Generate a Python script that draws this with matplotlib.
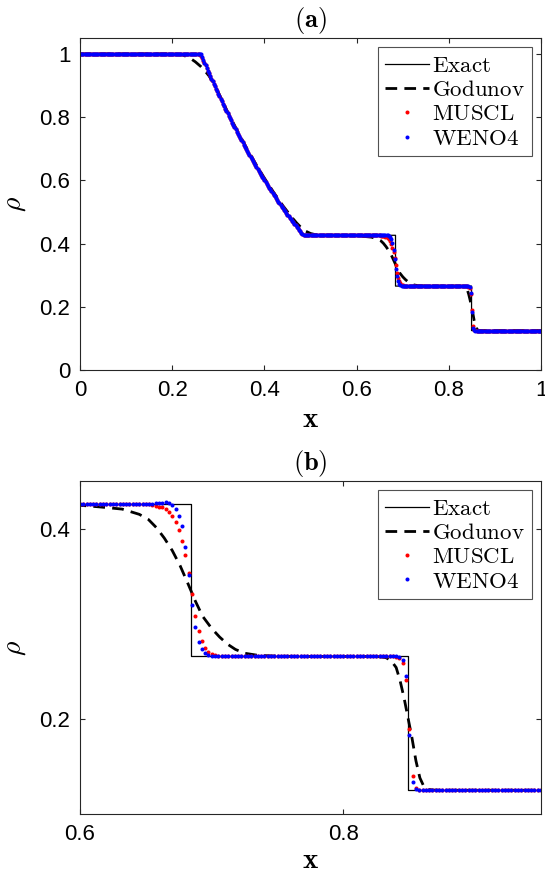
import numpy as np
import matplotlib
matplotlib.use('Agg')
import matplotlib.pyplot as plt

plt.rcParams['font.family'] = ['Liberation Sans', 'DejaVu Sans']
plt.rcParams['mathtext.fontset'] = 'cm'

# Sod shock tube, density at t = 0.2
# exact solution (piecewise: left state, fan, star states, right state)
exact_x = [0.0, 0.2634, 0.27, 0.28, 0.29, 0.30, 0.31, 0.32, 0.33, 0.34, 0.35,
           0.36, 0.37, 0.38, 0.39, 0.40, 0.41, 0.42, 0.43, 0.44, 0.45, 0.46,
           0.47, 0.48, 0.486, 0.6843, 0.6843, 0.8492, 0.8492, 1.0]
exact_rho = [1.0, 1.0, 0.9768, 0.9428, 0.9096, 0.8775, 0.8462, 0.8158, 0.7863,
             0.7577, 0.7299, 0.7030, 0.6768, 0.6514, 0.6268, 0.6029, 0.5798,
             0.5574, 0.5357, 0.5146, 0.4943, 0.4746, 0.4555, 0.4370, 0.4263,
             0.4263, 0.2656, 0.2656, 0.125, 0.125]

# first order Godunov
god_x = [0.0, 0.20, 0.22, 0.232, 0.242, 0.25, 0.262, 0.27, 0.28, 0.29, 0.30,
         0.32, 0.34, 0.36, 0.38, 0.40, 0.42, 0.44, 0.46, 0.47, 0.48, 0.49,
         0.50, 0.51, 0.525, 0.55, 0.58, 0.60, 0.615, 0.632, 0.645, 0.652,
         0.658, 0.664, 0.670, 0.676, 0.682, 0.6875, 0.693, 0.700, 0.706,
         0.712, 0.718, 0.725, 0.735, 0.75, 0.77, 0.825, 0.832, 0.836, 0.840,
         0.843, 0.846, 0.849, 0.852, 0.855, 0.858, 0.861, 0.864, 0.868,
         0.875, 1.0]
god_rho = [1.0, 1.0, 0.998, 0.991, 0.983, 0.975, 0.960, 0.948, 0.930, 0.906,
           0.878, 0.817, 0.760, 0.706, 0.655, 0.607, 0.562, 0.520, 0.482,
           0.465, 0.450, 0.439, 0.432, 0.4285, 0.4268, 0.4263, 0.4258, 0.4245,
           0.4228, 0.4205, 0.4150, 0.4095, 0.4010, 0.3900, 0.3770, 0.3610,
           0.3420, 0.3240, 0.3080, 0.2950, 0.2860, 0.2785, 0.2730, 0.2690,
           0.2668, 0.2659, 0.2656, 0.2656, 0.2645, 0.2615, 0.2540, 0.2400,
           0.2220, 0.2010, 0.1800, 0.1560, 0.1380, 0.1290, 0.1260, 0.1252,
           0.1250, 0.125]

# nodal values of the high order schemes, 400 cells
x_nodes = np.linspace(0.0, 1.0, 401)

rho_left, rho_star_l, rho_star_r, rho_right = 1.0, 0.4263, 0.2656, 0.125

# rarefaction fan, nodes 105..194
fan_rho = [0.9988, 0.9900, 0.9813,
           0.9726, 0.9641, 0.9555, 0.9470, 0.9386, 0.9303, 0.9221, 0.9138,
           0.9056, 0.8976, 0.8895, 0.8815, 0.8735, 0.8657, 0.8579, 0.8501,
           0.8424, 0.8348, 0.8272, 0.8196, 0.8121, 0.8048, 0.7974, 0.7900,
           0.7828, 0.7756, 0.7685, 0.7613, 0.7542, 0.7473, 0.7404, 0.7334,
           0.7266, 0.7198, 0.7131, 0.7063, 0.6997, 0.6931, 0.6866, 0.6801,
           0.6736, 0.6673, 0.6609, 0.6546, 0.6483, 0.6422, 0.6360, 0.6299,
           0.6238, 0.6179, 0.6119, 0.6059, 0.6000, 0.5943, 0.5885, 0.5827,
           0.5770, 0.5714, 0.5658, 0.5602, 0.5547, 0.5493, 0.5438, 0.5384,
           0.5331, 0.5278, 0.5225, 0.5173, 0.5121, 0.5070, 0.5019, 0.4968,
           0.4918, 0.4869, 0.4820, 0.4770, 0.4722, 0.4674, 0.4626, 0.4579,
           0.4532, 0.4485, 0.4439, 0.4393, 0.4348, 0.4303, 0.4263]

# MUSCL
muscl_head = [0.9998, 0.9990, 0.9970, 0.9930, 0.9860, 0.9790]          # nodes 102..107
muscl_contact = [0.4261, 0.4258, 0.4254, 0.4248, 0.4241, 0.4232, 0.4222,
                 0.4208, 0.4176, 0.4137, 0.4067, 0.3989, 0.3874, 0.3726,
                 0.3533, 0.3312, 0.3077, 0.2919, 0.2814, 0.2744, 0.2702,
                 0.2684, 0.2672, 0.2665, 0.2661, 0.2658, 0.2657]       # nodes 259..285
muscl_shock = [0.2655, 0.2642, 0.2586, 0.2411, 0.1895, 0.1400, 0.1274,
               0.1255, 0.1251]                                          # nodes 336..344

# WENO4
weno4_contact = [0.4267, 0.4271, 0.4274, 0.4275, 0.4271, 0.4250, 0.4207,
                 0.4137, 0.4024, 0.3807, 0.3516, 0.3200, 0.2965, 0.2811,
                 0.2737, 0.2692, 0.2670, 0.2661, 0.2658]               # nodes 263..281
weno4_shock = [0.2652, 0.2614, 0.2453, 0.1832, 0.1340, 0.1260, 0.1252]  # nodes 337..343

muscl_rho = np.array([rho_left] * 102 + muscl_head + fan_rho[3:]
                     + [rho_star_l] * 64 + muscl_contact
                     + [rho_star_r] * 50 + muscl_shock + [rho_right] * 56)
weno4_rho = np.array([rho_left] * 105 + fan_rho
                     + [rho_star_l] * 68 + weno4_contact
                     + [rho_star_r] * 55 + weno4_shock + [rho_right] * 57)

axis_col = '#262626'


def draw(ax, title, xpad):
    ax.plot(exact_x, exact_rho, '-', color='k', lw=0.9, label=r'$\mathrm{Exact}$')
    ax.plot(god_x, god_rho, '--', color='k', lw=2.0, dashes=(4.2, 2.6),
            label=r'$\mathrm{Godunov}$')
    ax.plot(x_nodes, muscl_rho, 'o', color='red', ms=2.9, mew=0,
            label=r'$\mathrm{MUSCL}$')
    ax.plot(x_nodes, weno4_rho, 'o', color='blue', ms=2.9, mew=0,
            label=r'$\mathrm{WENO4}$')

    ax.set_title(title, fontsize=19, pad=8)
    ax.set_xlabel(r'$\mathbf{x}$', fontsize=21, labelpad=xpad)
    ax.set_ylabel(r'$\rho$', fontsize=20, labelpad=8)

    ax.tick_params(direction='in', top=True, right=True, length=3.5,
                   width=0.8, color=axis_col, labelsize=16, pad=7)
    for sp in ax.spines.values():
        sp.set_color(axis_col)
        sp.set_linewidth(0.8)

    leg = ax.legend(loc='upper right', fontsize=16.5, handlelength=1.9,
                    handletextpad=0.15, labelspacing=0.05, borderpad=0.3,
                    borderaxespad=0.4, fancybox=False, markerscale=1.0)
    leg.get_frame().set_edgecolor(axis_col)
    leg.get_frame().set_linewidth(0.8)


fig = plt.figure(figsize=(5.45, 8.77), dpi=100)
ax_a = fig.add_axes([0.1468, 0.578, 0.846, 0.3786])
ax_b = fig.add_axes([0.1468, 0.0718, 0.846, 0.3797])

draw(ax_a, r'$\mathbf{(a)}$', 3)
ax_a.set_xlim(0, 1)
ax_a.set_ylim(0, 1.05)
ax_a.set_xticks([0, 0.2, 0.4, 0.6, 0.8, 1])
ax_a.set_xticklabels(['0', '0.2', '0.4', '0.6', '0.8', '1'])
ax_a.set_yticks([0, 0.2, 0.4, 0.6, 0.8, 1])
ax_a.set_yticklabels(['0', '0.2', '0.4', '0.6', '0.8', '1'])

draw(ax_b, r'$\mathbf{(b)}$', 1)
ax_b.set_xlim(0.6, 0.95)
ax_b.set_ylim(0.1, 0.45)
ax_b.set_xticks([0.6, 0.8])
ax_b.set_xticklabels(['0.6', '0.8'])
ax_b.set_yticks([0.2, 0.4])
ax_b.set_yticklabels(['0.2', '0.4'])

fig.savefig('out.png', dpi=100)
